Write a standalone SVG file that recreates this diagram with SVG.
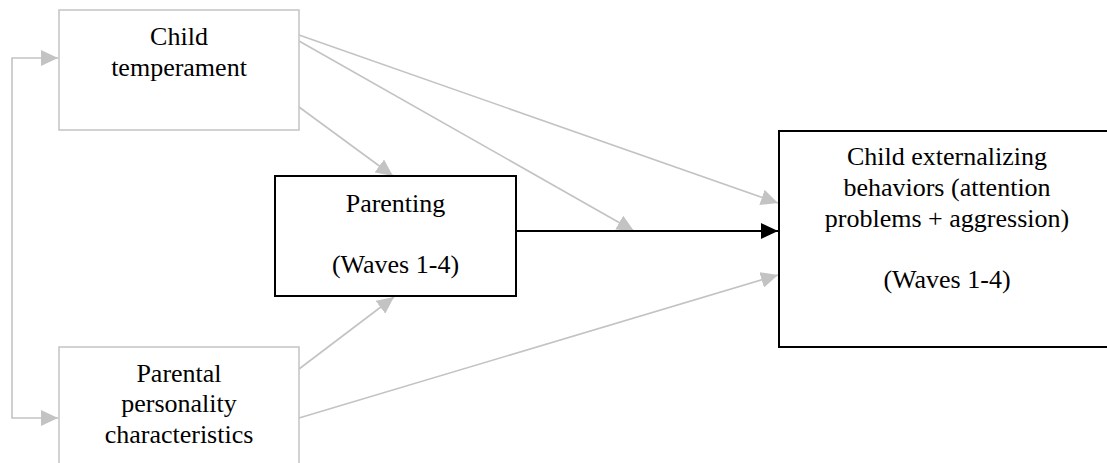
<svg xmlns="http://www.w3.org/2000/svg" width="1107" height="463" viewBox="0 0 1107 463" font-family="'Liberation Serif', serif">
  <style>
    .gbox { fill: #ffffff; stroke: #c3c3c3; stroke-width: 1.5; }
    .bbox { fill: #ffffff; stroke: #000000; stroke-width: 2; }
    .lbl { font-family: 'Liberation Serif', serif; font-size: 26px; fill: #000000; text-anchor: middle; }
    .gline { fill: none; stroke: #c3c3c3; stroke-width: 1.6; marker-end: url(#ga); }
    .bline { fill: none; stroke: #000000; stroke-width: 2; marker-end: url(#ba); }
  </style>
  <defs>
    <marker id="ga" markerUnits="userSpaceOnUse" markerWidth="18" markerHeight="16" refX="17" refY="8" orient="auto" viewBox="0 0 18 16">
      <path d="M0,0 L17,8 L0,16 Z" fill="#c3c3c3"/>
    </marker>
    <marker id="ba" markerUnits="userSpaceOnUse" markerWidth="18" markerHeight="16" refX="17" refY="8" orient="auto" viewBox="0 0 18 16">
      <path d="M0,0 L17,8 L0,16 Z" fill="#000000"/>
    </marker>
  </defs>

  <g id="connectors">
    <path class="gline" d="M12,238 V58 H58"/>
    <path class="gline" d="M12,238 V418 H58"/>
    <path class="gline" d="M299,35 L778,203"/>
    <path class="gline" d="M299,41 L634,231"/>
    <path class="gline" d="M299,107 L393,176"/>
    <path class="gline" d="M299,369 L394,297"/>
    <path class="gline" d="M299,418 L778,275"/>
    <path class="bline" d="M516,231 H778"/>
  </g>

  <g id="child-temperament">
    <rect class="gbox" x="59" y="10" width="240" height="120"/>
    <text class="lbl" x="179" y="45">Child</text>
    <text class="lbl" x="179" y="76">temperament</text>
  </g>

  <g id="parenting">
    <rect class="bbox" x="275" y="176" width="241" height="120"/>
    <text class="lbl" x="395.5" y="212">Parenting</text>
    <text class="lbl" x="395.5" y="273">(Waves 1-4)</text>
  </g>

  <g id="parental-personality">
    <rect class="gbox" x="59" y="347" width="240" height="130"/>
    <text class="lbl" x="179" y="382">Parental</text>
    <text class="lbl" x="179" y="412">personality</text>
    <text class="lbl" x="179" y="443">characteristics</text>
  </g>

  <g id="child-externalizing">
    <rect class="bbox" x="779" y="131" width="336" height="216"/>
    <text class="lbl" x="947" y="165">Child externalizing</text>
    <text class="lbl" x="947" y="196">behaviors (attention</text>
    <text class="lbl" x="947" y="227">problems + aggression)</text>
    <text class="lbl" x="947" y="288">(Waves 1-4)</text>
  </g>
</svg>
